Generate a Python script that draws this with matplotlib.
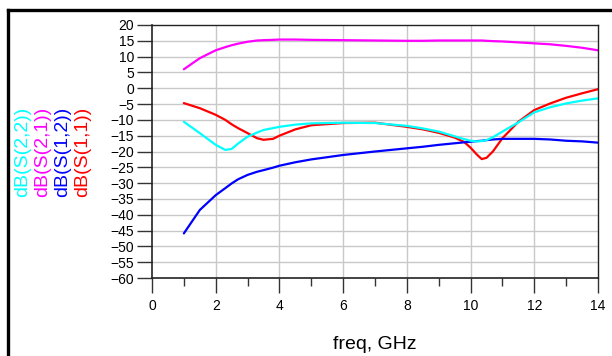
import numpy as np
import matplotlib.pyplot as plt

plt.rcParams['font.family'] = ['Liberation Sans', 'DejaVu Sans']

# frequency points (GHz) and traces (dB)
freq = [1.0, 1.5, 2.0, 2.3, 2.5, 2.7, 3.0, 3.3, 3.5, 3.8, 4.0, 4.5, 5.0, 6.0, 7.0,
        8.0, 8.5, 9.0, 9.5, 9.8, 10.0, 10.2, 10.35, 10.5, 10.7, 11.0, 11.5,
        12.0, 12.5, 13.0, 13.5, 14.0]
s11 = [-4.7, -6.3, -8.4, -10.0, -11.4, -12.6, -14.2, -15.8, -16.3, -16.0, -15.0,
       -13.0, -11.7, -11.0, -10.9, -12.2, -13.0, -14.1, -15.6, -17.0, -18.8,
       -21.0, -22.4, -22.0, -20.0, -15.8, -10.6, -6.9, -4.8, -3.0, -1.6, -0.3]
s12 = [-45.9, -38.5, -33.8, -31.6, -30.1, -28.8, -27.4, -26.4, -25.9, -25.1,
       -24.5, -23.4, -22.5, -21.1, -20.0, -19.0, -18.5, -17.9, -17.4, -17.1,
       -16.9, -16.7, -16.6, -16.4, -16.2, -16.0, -16.0, -16.0, -16.2, -16.6,
       -16.8, -17.2]
s21 = [6.0, 9.5, 12.0, 13.0, 13.6, 14.1, 14.7, 15.1, 15.2, 15.3, 15.4, 15.4,
       15.3, 15.2, 15.1, 15.0, 15.0, 15.1, 15.1, 15.1, 15.1, 15.1, 15.1, 15.0,
       14.9, 14.8, 14.5, 14.2, 13.9, 13.4, 12.8, 12.0]
s22 = [-10.6, -14.2, -17.9, -19.5, -19.2, -17.5, -15.3, -14.0, -13.2, -12.6,
       -12.2, -11.5, -11.1, -10.9, -11.0, -11.9, -12.7, -13.7, -15.2, -16.1,
       -16.6, -16.8, -16.7, -16.4, -15.5, -13.7, -10.8, -7.6, -6.0, -4.8, -3.9,
       -3.2]

series = [('dB(S(2,2))', s22, '#00ffff'),
          ('dB(S(2,1))', s21, '#ff00ff'),
          ('dB(S(1,2))', s12, '#0000ff'),
          ('dB(S(1,1))', s11, '#ff0000')]

W, H = 612, 356
fig = plt.figure(figsize=(W / 100, H / 100), dpi=100)
ax = fig.add_axes([152 / W, (H - 278) / H, 446 / W, 253 / H])

for name, vals, col in series[::-1]:
    ax.plot(freq, vals, color=col, lw=1.6, solid_capstyle='round')

ax.set_xlim(0, 14)
ax.set_ylim(-60, 20)
ax.set_xticks(np.arange(0, 15, 2))
ax.set_xticks(np.arange(1, 14, 2), minor=True)
ax.set_yticks(np.arange(-60, 21, 5))

for v in np.arange(-55, 20, 5):
    ax.axhline(v, color='#c8c8c8', lw=1, zorder=0)
for v in np.arange(2, 14, 2):
    ax.axvline(v, color='#c8c8c8', lw=1, zorder=0)

ax.tick_params(axis='y', direction='out', length=10.5, width=1, labelsize=10,
               pad=2.5, color='#333333')
ax.tick_params(axis='x', which='major', direction='out', length=11, width=1,
               labelsize=10, pad=4, color='#333333')
ax.tick_params(axis='x', which='minor', direction='out', length=5.5, width=1,
               color='#333333')

for s in ['left', 'bottom']:
    ax.spines[s].set_color('#222222')
    ax.spines[s].set_linewidth(1.2)
for s in ['top', 'right']:
    ax.spines[s].set_color('#222222')
    ax.spines[s].set_linewidth(1.0)

ax.set_xlabel('freq, GHz', fontsize=14, labelpad=17)

# stacked coloured y labels
for i, (name, vals, col) in enumerate(series):
    fig.text((23 + 20 * i) / W, (H - 152) / H, name, rotation=90, color=col,
             fontsize=14, ha='center', va='center')

# outer frame (top and left only)
fig.add_artist(plt.Line2D([8 / W, 1.0], [1 - 9.5 / H, 1 - 9.5 / H],
                          transform=fig.transFigure, color='black', lw=2.4))
fig.add_artist(plt.Line2D([8 / W, 8 / W], [0, 1 - 9.5 / H],
                          transform=fig.transFigure, color='black', lw=2.4))

fig.savefig('out.png', dpi=100)
